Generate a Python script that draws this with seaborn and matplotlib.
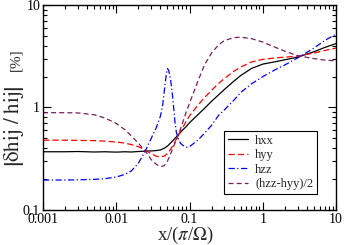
import numpy as np
import pandas as pd
import matplotlib
matplotlib.use("Agg")
import matplotlib.pyplot as plt
import seaborn as sns
from matplotlib.ticker import FixedLocator, FixedFormatter, LogLocator, NullFormatter

# ---------------- data ----------------
x_grid = [0.001, 0.002, 0.003, 0.005, 0.007, 0.01, 0.013, 0.016, 0.02, 0.023,
          0.026, 0.03, 0.035, 0.04, 0.045, 0.05, 0.055, 0.06, 0.065, 0.07,
          0.08, 0.09, 0.1, 0.13, 0.16, 0.2, 0.25, 0.3, 0.4, 0.5,
          0.7, 1, 1.5, 2, 3, 5, 7, 10]

hxx = [0.37, 0.37, 0.372, 0.368, 0.37, 0.367, 0.37, 0.368, 0.372, 0.374,
       0.376, 0.377, 0.38, 0.385, 0.40, 0.42, 0.45, 0.48, 0.51, 0.54,
       0.60, 0.65, 0.71, 0.85, 0.98, 1.15, 1.33, 1.5, 1.8, 2.05,
       2.4, 2.65, 2.8, 2.92, 3.1, 3.5, 3.85, 4.2]

hyy = [0.48, 0.48, 0.478, 0.475, 0.47, 0.46, 0.45, 0.435, 0.415, 0.395,
       0.375, 0.355, 0.335, 0.33, 0.335, 0.355, 0.39, 0.43, 0.48, 0.53,
       0.63, 0.73, 0.83, 1.05, 1.25, 1.47, 1.72, 1.92, 2.25, 2.48,
       2.78, 2.95, 3.05, 3.1, 3.17, 3.4, 3.6, 3.8]

half_diff = [0.89, 0.89, 0.885, 0.85, 0.79, 0.70, 0.61, 0.53, 0.45, 0.40,
             0.36, 0.31, 0.28, 0.265, 0.27, 0.30, 0.35, 0.41, 0.47, 0.53,
             0.70, 0.90, 1.1, 1.8, 2.6, 3.4, 4.1, 4.5, 4.8, 4.85,
             4.7, 4.35, 3.85, 3.55, 3.2, 3.0, 2.9, 2.85]

x_zz = [0.001, 0.002, 0.003, 0.005, 0.007, 0.01, 0.013, 0.016, 0.02, 0.023,
        0.026, 0.03, 0.035, 0.04, 0.043, 0.046, 0.048, 0.05, 0.052, 0.055,
        0.058, 0.06, 0.063, 0.066, 0.07, 0.075, 0.08, 0.09, 0.1, 0.13,
        0.16, 0.2, 0.25, 0.3, 0.4, 0.5, 0.7, 1, 1.5, 2,
        3, 5, 7, 10]
hzz = [0.196, 0.196, 0.197, 0.199, 0.202, 0.21, 0.222, 0.24, 0.285, 0.34,
       0.40, 0.50, 0.63, 0.82, 1.05, 1.6, 2.05, 2.4, 2.3, 1.9,
       1.4, 1.1, 0.75, 0.58, 0.50, 0.45, 0.43, 0.41, 0.415, 0.48,
       0.56, 0.67, 0.84, 0.95, 1.17, 1.4, 1.7, 2.0, 2.35, 2.6,
       3.05, 3.8, 4.5, 5.2]

labels = ["hxx", "hyy", "hzz", "(hzz-hyy)/2"]
x_ticks = [0.001, 0.01, 0.1, 1, 10]
x_tick_labels = ["0.001", "0.01", "0.1", "1", "10"]
y_ticks = [0.1, 1, 10]
y_tick_labels = ["0.1", "1", "10"]

# ---------------- style ----------------
sns.set_theme(style="ticks")
plt.rcParams["font.family"] = ["Liberation Serif", "DejaVu Serif"]
plt.rcParams["mathtext.fontset"] = "stix"

fig = plt.figure(figsize=(3.44, 2.45), dpi=100)
ax = fig.add_axes([43 / 344, 1 - 210 / 245, 293 / 344, 205 / 245])

styles = [
    dict(color="black", linestyle="-"),
    dict(color="#ff0000", linestyle=(0, (5, 2.5))),
    dict(color="#0000ff", linestyle=(0, (5, 2, 1, 2))),
    dict(color="#72205e", linestyle=(0, (4, 2.5))),
]
series = [(x_grid, hxx), (x_grid, hyy), (x_zz, hzz), (x_grid, half_diff)]

for (xs, ys), lab, st in zip(series, labels, styles):
    df = pd.DataFrame({"x": xs, "y": ys})
    sns.lineplot(data=df, x="x", y="y", ax=ax, label=lab, lw=0.9,
                 estimator=None, sort=True, **st)

ax.set_xscale("log")
ax.set_yscale("log")
ax.set_xlim(0.001, 10)
ax.set_ylim(0.1, 10)

ax.xaxis.set_major_locator(FixedLocator(x_ticks))
ax.xaxis.set_major_formatter(FixedFormatter(x_tick_labels))
ax.yaxis.set_major_locator(FixedLocator(y_ticks))
ax.yaxis.set_major_formatter(FixedFormatter(y_tick_labels))
ax.xaxis.set_minor_locator(LogLocator(base=10, subs=np.arange(2, 10)))
ax.yaxis.set_minor_locator(LogLocator(base=10, subs=np.arange(2, 10)))
ax.xaxis.set_minor_formatter(NullFormatter())
ax.yaxis.set_minor_formatter(NullFormatter())

ax.tick_params(which="both", direction="in", top=True, right=True,
               labelsize=10, colors="black", width=0.8, pad=2)
ax.tick_params(which="major", length=6)
ax.tick_params(which="minor", length=3)
for sp in ax.spines.values():
    sp.set_color("black")
    sp.set_linewidth(1.0)

ax.set_xlabel("")
ax.set_ylabel("")
fig.text(185 / 344, 1 - 235 / 245, r"x/($\pi$/$\Omega$)", ha="center",
         va="center", fontsize=13.5)
fig.text(14 / 344, 1 - 126 / 245, r"$\left|\mathrm{\delta hij\ /\ hij}\right|$",
         rotation=90, ha="center", va="center", fontsize=15)
fig.text(16 / 344, 1 - 60 / 245, "[%]", rotation=90, ha="center",
         va="center", fontsize=11)

leg = ax.legend(loc="upper left", bbox_to_anchor=(0.618, 0.385),
                borderaxespad=0, fontsize=9, frameon=True, fancybox=False,
                edgecolor="black", framealpha=1, handlelength=1.6,
                handletextpad=0.6, labelspacing=0.2, borderpad=0.3)
leg.get_frame().set_linewidth(0.8)

fig.savefig("out.png", dpi=100)
